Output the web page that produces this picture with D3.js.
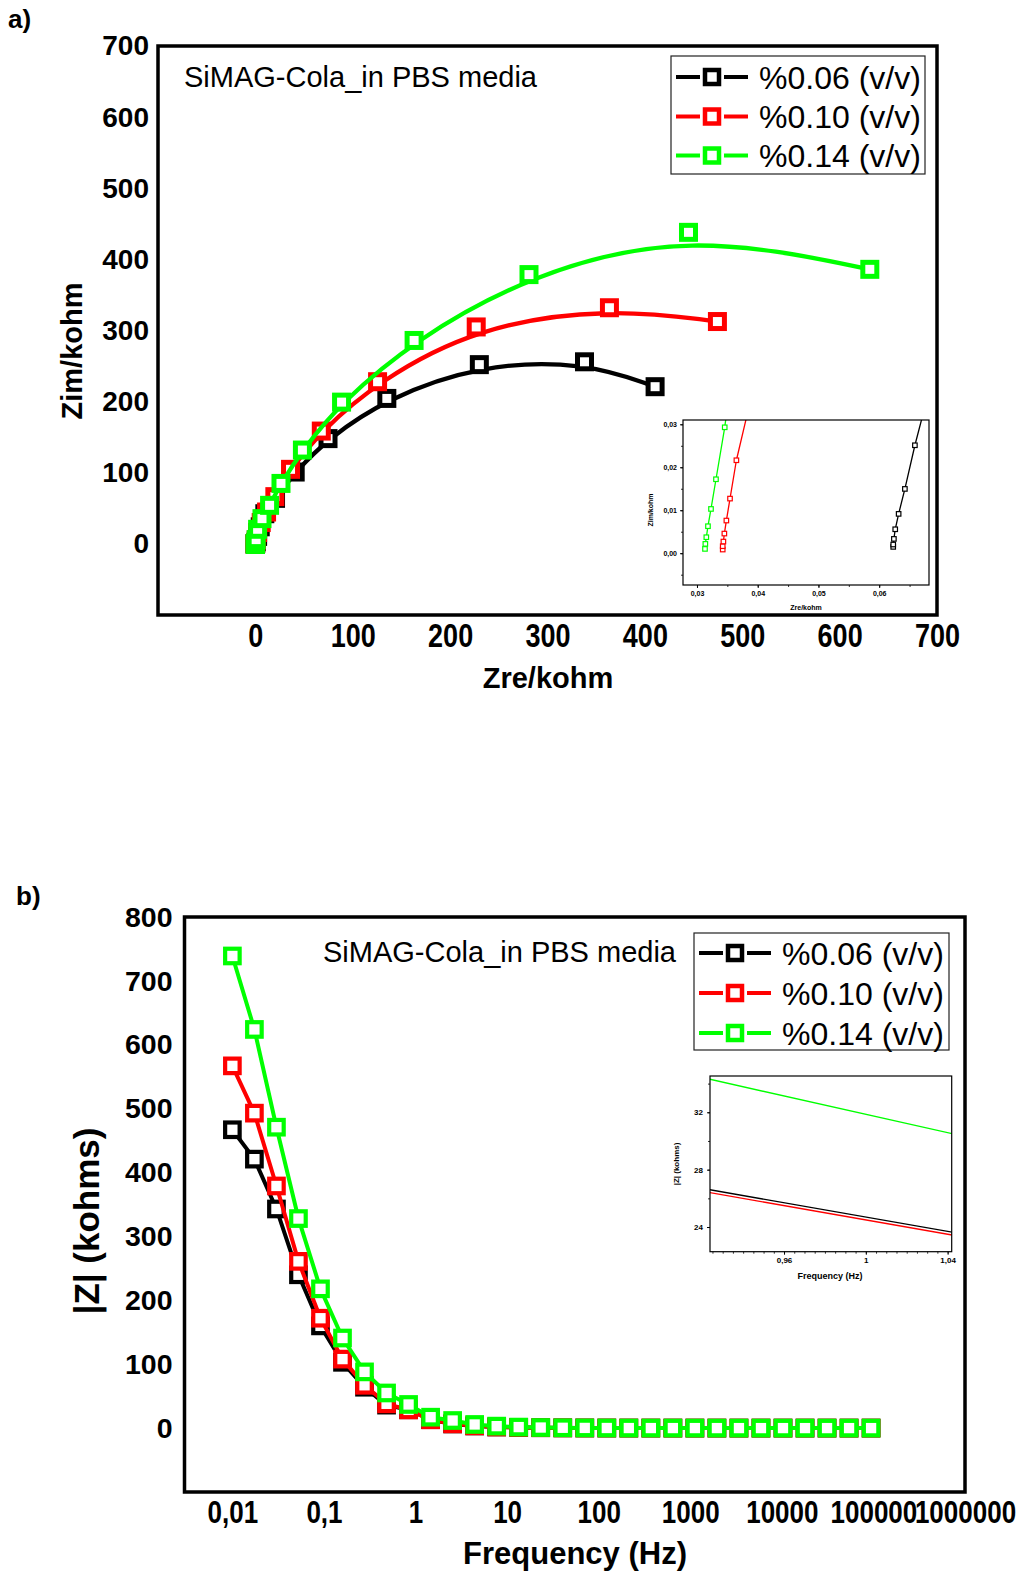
<!DOCTYPE html>
<html>
<head>
<meta charset="utf-8">
<script src="https://cdnjs.cloudflare.com/ajax/libs/d3/7.8.5/d3.min.js"></script>
<style>
  body { margin: 0; background: #fff; }
  text { font-family: "Liberation Sans", Arial, sans-serif; }
</style>
</head>
<body>
<svg id="chart" width="1025" height="1573"></svg>
<script>
// ---- shared ----
var seriesNames = ["%0.06 (v/v)", "%0.10 (v/v)", "%0.14 (v/v)"];
var seriesColors = ["#000000", "#ff0000", "#00ff00"];

// ---- a) Nyquist, Zre / Zim in kohm ----
var zre006 = [0.06231, 0.06231, 0.06242, 0.06264, 0.0632, 0.06423, 0.06588, 0.0699, 0.09, 0.17, 0.4, 1.0, 2.3, 5.0, 9.7, 20.7, 40.9, 74.6, 135, 230, 338, 410.5];
var zim006 = [0.00147, 0.00202, 0.00333, 0.00557, 0.00915, 0.01496, 0.02512, 0.047, 0.13, 0.4, 1.2, 3.5, 10.5, 24, 42.4, 64, 101, 148, 204.5, 252, 256, 221];
var zre010 = [0.03424, 0.03424, 0.03435, 0.03451, 0.03484, 0.03544, 0.03649, 0.0393, 0.06, 0.13, 0.35, 0.9, 2.3, 6.0, 11.5, 20, 36.1, 67.7, 125.5, 226.8, 363.6, 474.5];
var zim010 = [0.00085, 0.00163, 0.00271, 0.00457, 0.0076, 0.01271, 0.02163, 0.0385, 0.11, 0.35, 1.1, 5.5, 16, 30, 44.8, 66.4, 104.8, 158.6, 228, 305, 332, 312.6];
var zre014 = [0.03132, 0.03138, 0.03154, 0.03181, 0.03231, 0.03313, 0.03457, 0.0363, 0.05, 0.1, 0.28, 0.8, 2.3, 6.8, 14.6, 26.3, 48.3, 88.5, 163, 281, 444.8, 631];
var zim014 = [0.001, 0.00217, 0.00372, 0.00628, 0.0103, 0.01721, 0.0293, 0.048, 0.12, 0.4, 1.4, 6, 20.5, 35.5, 54.2, 85, 131.9, 199.3, 286, 378.6, 438, 386];
var ticksA = [0, 100, 200, 300, 400, 500, 600, 700];
var insetTicksAx = [0.03, 0.04, 0.05, 0.06];
var insetTicksAy = [0, 0.01, 0.02, 0.03];

// ---- b) Bode |Z| vs frequency ----
var freq = [0.01, 0.0174, 0.03028, 0.05267, 0.09163, 0.1594, 0.2773, 0.4826, 0.8395, 1.461,
            2.541, 4.421, 7.691, 13.38, 23.28, 40.5, 70.47, 122.6, 213.3, 371.1,
            645.7, 1123, 1954, 3401, 5916, 10292, 17906, 31153, 54200, 94300];
var modZ006 = [467, 421, 343, 240, 160, 103, 64, 36, 28.7, 13.2, 6.5, 3.4, 1.8, 1.0, 0.6,
               0.36, 0.22, 0.14, 0.1, 0.08, 0.07, 0.066, 0.064, 0.063, 0.063, 0.062, 0.062, 0.062, 0.062, 0.062];
var modZ010 = [567, 493, 379, 261, 172, 108, 67, 38, 28.5, 13.0, 6.7, 3.5, 1.8, 1.0, 0.6,
               0.35, 0.2, 0.12, 0.08, 0.06, 0.05, 0.042, 0.038, 0.036, 0.035, 0.035, 0.034, 0.034, 0.034, 0.034];
var modZ014 = [739, 624, 471, 328, 218, 141, 88, 55, 37.0, 17.1, 11.9, 5.7, 3.1, 1.6, 0.9,
               0.5, 0.3, 0.18, 0.11, 0.08, 0.06, 0.05, 0.04, 0.036, 0.034, 0.033, 0.032, 0.032, 0.031, 0.031];
var ticksBy = [0, 100, 200, 300, 400, 500, 600, 700, 800];
var ticksBx = [0.01, 0.1, 1, 10, 100, 1000, 10000, 100000, 1000000];
var ticksBxLabels = ["0,01", "0,1", "1", "10", "100", "1000", "10000", "100000", "1000000"];
var insetTicksBx = [0.96, 1, 1.04];
var insetTicksBy = [24, 28, 32];

var svg = d3.select("#chart");
var comma = d3.formatLocale({decimal: ",", thousands: ".", grouping: [3], currency: ["", ""]});

function drawSeries(g, xs, ys, x, y, color, o) {
  var pts = xs.map(function(d, i) { return [d, ys[i]]; });
  var line = d3.line()
      .x(function(d) { return x(d[0]); })
      .y(function(d) { return y(d[1]); })
      .curve(o.curve || d3.curveLinear);
  g.append("path")
      .datum(pts)
      .attr("fill", "none")
      .attr("stroke", color)
      .attr("stroke-width", o.lw)
      .attr("stroke-linejoin", "round")
      .attr("d", line);
  if (!o.ms) return;
  g.selectAll(null)
      .data(pts)
    .enter().append("rect")
      .attr("x", function(d) { return x(d[0]) - o.ms / 2; })
      .attr("y", function(d) { return y(d[1]) - o.ms / 2; })
      .attr("width", o.ms)
      .attr("height", o.ms)
      .attr("fill", "#fff")
      .attr("stroke", color)
      .attr("stroke-width", o.msw);
}

function frame(g, x0, y0, x1, y1, sw) {
  g.append("rect")
      .attr("x", x0).attr("y", y0)
      .attr("width", x1 - x0).attr("height", y1 - y0)
      .attr("fill", "none")
      .attr("stroke", "#000")
      .attr("stroke-width", sw);
}

function legend(g, x0, y0, w, h, rowY, lineX0, lineX1, markX, textX) {
  g.append("rect")
      .attr("x", x0).attr("y", y0).attr("width", w).attr("height", h)
      .attr("fill", "#fff").attr("stroke", "#222").attr("stroke-width", 1.2);
  seriesNames.forEach(function(name, i) {
    var yy = rowY[i];
    // line - gap - marker - gap - line
    [[lineX0, markX - 12], [markX + 12, lineX1]].forEach(function(seg) {
      g.append("line")
          .attr("x1", seg[0]).attr("x2", seg[1]).attr("y1", yy).attr("y2", yy)
          .attr("stroke", seriesColors[i]).attr("stroke-width", 4);
    });
    g.append("rect")
        .attr("x", markX - 7).attr("y", yy - 7).attr("width", 14).attr("height", 14)
        .attr("fill", "#fff").attr("stroke", seriesColors[i]).attr("stroke-width", 4.5);
    g.append("text")
        .attr("x", textX).attr("y", yy).attr("dy", "0.36em")
        .style("font-size", "32px")
        .text(name);
  });
}

function styleTicks(sel, size) {
  sel.select(".domain").remove();
  sel.selectAll("text")
      .style("font-size", size + "px")
      .style("font-weight", "bold")
      .attr("fill", "#000");
}

// bottom tick labels look stretched vertically in the original export
function stretchTicks(sel, top) {
  sel.selectAll("text")
      .attr("y", top / 1.2)
      .attr("transform", "scale(1,1.2)");
}

// ====================== panel a ======================
var ga = svg.append("g");
var xa = d3.scaleLinear().domain([-100, 700]).range([158, 937]);
var ya = d3.scaleLinear().domain([-100, 700]).range([615, 46]);

ga.append("g")
    .attr("transform", "translate(158,0)")
    .call(d3.axisLeft(ya).tickValues(ticksA).tickSize(0).tickPadding(9))
    .call(styleTicks, 28);

ga.append("g")
    .attr("transform", "translate(0,615)")
    .call(d3.axisBottom(xa).tickValues(ticksA).tickSize(0).tickPadding(9))
    .call(styleTicks, 27)
    .call(stretchTicks, 9);

var seriesA = [[zre006, zim006], [zre010, zim010], [zre014, zim014]];
seriesA.forEach(function(s, i) {
  drawSeries(ga, s[0], s[1], xa, ya, seriesColors[i],
             {curve: d3.curveBasis, lw: 4.3, ms: 14, msw: 5});
});

frame(ga, 158, 46, 937, 615, 3.5);

ga.append("text").attr("x", 8).attr("y", 28)
    .style("font-size", "26px").style("font-weight", "bold").text("a)");
ga.append("text").attr("x", 184).attr("y", 87)
    .style("font-size", "29px").text("SiMAG-Cola_in PBS media");
ga.append("text")
    .attr("transform", "translate(72,351) rotate(-90)")
    .attr("text-anchor", "middle").attr("dy", "0.36em")
    .style("font-size", "29px").style("font-weight", "bold").text("Zim/kohm");
ga.append("text")
    .attr("x", 548).attr("y", 678).attr("text-anchor", "middle").attr("dy", "0.36em")
    .style("font-size", "29px").style("font-weight", "bold").text("Zre/kohm");

legend(ga, 671, 56, 254, 118, [77, 116.5, 155.5], 676, 748, 712, 759);

// inset a
var ia = ga.append("g");
var xia = d3.scaleLinear().domain([0.0277, 0.0682]).range([683, 929]);
var yia = d3.scaleLinear().domain([-0.0074, 0.031]).range([585, 420]);
ia.append("rect").attr("x", 683).attr("y", 420).attr("width", 246).attr("height", 165).attr("fill", "#fff");
ia.append("clipPath").attr("id", "clipA")
  .append("rect").attr("x", 683).attr("y", 420).attr("width", 246).attr("height", 165);

ia.append("g").attr("transform", "translate(683,0)")
    .call(d3.axisLeft(yia).ticks(8).tickSize(2).tickFormat(""))
    .call(function(s) { s.select(".domain").remove(); s.selectAll("line").attr("stroke", "#333"); });
ia.append("g").attr("transform", "translate(683,0)")
    .call(d3.axisLeft(yia).tickValues(insetTicksAy).tickSize(3).tickPadding(3).tickFormat(comma.format(".2f")))
    .call(styleTicks, 7);
ia.append("g").attr("transform", "translate(0,585)")
    .call(d3.axisBottom(xia).ticks(8).tickSize(2).tickFormat(""))
    .call(function(s) { s.select(".domain").remove(); s.selectAll("line").attr("stroke", "#333"); });
ia.append("g").attr("transform", "translate(0,585)")
    .call(d3.axisBottom(xia).tickValues(insetTicksAx).tickSize(3).tickPadding(3).tickFormat(comma.format(".2f")))
    .call(styleTicks, 7);

var iaData = ia.append("g").attr("clip-path", "url(#clipA)");
seriesA.forEach(function(s, i) {
  drawSeries(iaData, s[0], s[1], xia, yia, seriesColors[i], {lw: 1.3, ms: 4.5, msw: 1.2});
});
frame(ia, 683, 420, 929, 585, 1.2);
ia.append("text")
    .attr("transform", "translate(650,510) rotate(-90)")
    .attr("text-anchor", "middle").attr("dy", "0.36em")
    .style("font-size", "7px").style("font-weight", "bold").text("Zim/kohm");
ia.append("text")
    .attr("x", 806).attr("y", 607).attr("text-anchor", "middle").attr("dy", "0.36em")
    .style("font-size", "7px").style("font-weight", "bold").text("Zre/kohm");

// ====================== panel b ======================
var gb = svg.append("g");
var xb = d3.scaleLog().domain([0.003, 1000000]).range([184.5, 965]);
var yb = d3.scaleLinear().domain([-100, 800]).range([1492, 917]);

gb.append("g")
    .attr("transform", "translate(184.5,0)")
    .call(d3.axisLeft(yb).tickValues(ticksBy).tickSize(0).tickPadding(12))
    .call(styleTicks, 28.5);

gb.append("g")
    .attr("transform", "translate(0,1492)")
    .call(d3.axisBottom(xb).tickValues(ticksBx).tickSize(0).tickPadding(9)
            .tickFormat(function(d, i) { return ticksBxLabels[i]; }))
    .call(styleTicks, 26)
    .call(stretchTicks, 9);

var seriesB = [modZ006, modZ010, modZ014];
seriesB.forEach(function(s, i) {
  drawSeries(gb, freq, s, xb, yb, seriesColors[i], {lw: 4, ms: 14.5, msw: 4.2});
});

frame(gb, 184.5, 917, 965, 1492, 3.5);

gb.append("text").attr("x", 16).attr("y", 905)
    .style("font-size", "26px").style("font-weight", "bold").text("b)");
gb.append("text").attr("x", 323).attr("y", 962)
    .style("font-size", "29px").text("SiMAG-Cola_in PBS media");
gb.append("text")
    .attr("transform", "translate(86,1221) rotate(-90)")
    .attr("text-anchor", "middle").attr("dy", "0.36em")
    .style("font-size", "35px").style("font-weight", "bold").text("|Z| (kohms)");
gb.append("text")
    .attr("x", 575).attr("y", 1553).attr("text-anchor", "middle").attr("dy", "0.36em")
    .style("font-size", "31px").style("font-weight", "bold").text("Frequency (Hz)");

legend(gb, 694, 933, 255, 117, [953, 993, 1033], 699, 771, 735, 782);

// inset b
var ib = gb.append("g");
var xib = d3.scaleLinear().domain([0.9238, 1.042]).range([710, 951.7]);
var yib = d3.scaleLinear().domain([22.28, 34.53]).range([1251.7, 1076]);
ib.append("rect").attr("x", 710).attr("y", 1076).attr("width", 241.7).attr("height", 175.7).attr("fill", "#fff");
ib.append("clipPath").attr("id", "clipB")
  .append("rect").attr("x", 710).attr("y", 1076).attr("width", 241.7).attr("height", 175.7);

ib.append("g").attr("transform", "translate(710,0)")
    .call(d3.axisLeft(yib).tickValues([24, 26, 28, 30, 32, 34]).tickSize(2).tickFormat(""))
    .call(function(s) { s.select(".domain").remove(); s.selectAll("line").attr("stroke", "#333"); });
ib.append("g").attr("transform", "translate(710,0)")
    .call(d3.axisLeft(yib).tickValues(insetTicksBy).tickSize(3).tickPadding(4))
    .call(styleTicks, 8);
ib.append("g").attr("transform", "translate(0,1251.7)")
    .call(d3.axisBottom(xib).ticks(24).tickSize(2).tickFormat(""))
    .call(function(s) { s.select(".domain").remove(); s.selectAll("line").attr("stroke", "#333"); });
ib.append("g").attr("transform", "translate(0,1251.7)")
    .call(d3.axisBottom(xib).tickValues(insetTicksBx).tickSize(3).tickPadding(3)
            .tickFormat(function(d) { return comma.format("~g")(d); }))
    .call(styleTicks, 8);

var ibData = ib.append("g").attr("clip-path", "url(#clipB)");
seriesB.forEach(function(s, i) {
  drawSeries(ibData, freq, s, xib, yib, seriesColors[i], {lw: 1.4, ms: 0, msw: 0});
});
frame(ib, 710, 1076, 951.7, 1251.7, 1.2);
ib.append("text")
    .attr("transform", "translate(676,1164) rotate(-90)")
    .attr("text-anchor", "middle").attr("dy", "0.36em")
    .style("font-size", "8px").style("font-weight", "bold").text("|Z| (kohms)");
ib.append("text")
    .attr("x", 830).attr("y", 1276).attr("text-anchor", "middle").attr("dy", "0.36em")
    .style("font-size", "9px").style("font-weight", "bold").text("Frequency (Hz)");
</script>
</body>
</html>
